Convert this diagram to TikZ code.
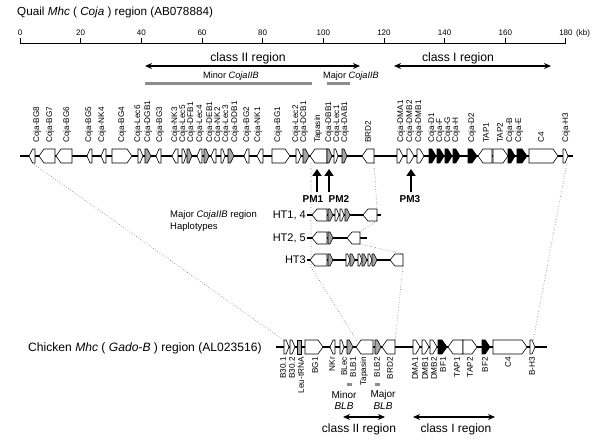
\documentclass[tikz,border=0pt]{standalone}
\usepackage{fontspec}
\setmainfont{Liberation Sans}
\usetikzlibrary{arrows.meta}
\tikzset{
 wgene/.style={draw=black, fill=white, line width=0.6pt},
 ggene/.style={draw=black, fill=black!35, line width=0.6pt},
 bgene/.style={draw=black, fill=black, line width=0.6pt},
 backbone/.style={line width=2pt},
 glabel/.style={rotate=90, anchor=west, font=\fontsize{8.2}{8}\selectfont, inner sep=0pt},
 clabel/.style={rotate=90, anchor=east, font=\fontsize{8.2}{8}\selectfont, inner sep=0pt},
 dotl/.style={black!55, dotted, line width=0.6pt},
 region/.style={line width=1.4pt, {Stealth[length=7pt,width=6pt]}-{Stealth[length=7pt,width=6pt]}},
 graybar/.style={line width=3pt, black!45},
 pmarrow/.style={line width=2.6pt, -{Triangle[length=7pt,width=9pt]}},
 txt/.style={inner sep=0pt, font=\fontsize{12.2}{13}\selectfont},
 small/.style={inner sep=0pt, font=\fontsize{8.5}{10}\selectfont},
}
\newcommand{\gR}[4]{\pgfmathsetmacro\gtl{min(5,0.6*(#2-#1))}\draw[#4] (#1,#3-\gh) -- ({#2-\gtl},#3-\gh) -- (#2,#3) -- ({#2-\gtl},#3+\gh) -- (#1,#3+\gh) -- cycle;}
\newcommand{\gL}[4]{\pgfmathsetmacro\gtl{min(5,0.6*(#2-#1))}\draw[#4] (#2,#3-\gh) -- ({#1+\gtl},#3-\gh) -- (#1,#3) -- ({#1+\gtl},#3+\gh) -- (#2,#3+\gh) -- cycle;}
\begin{document}
\begin{tikzpicture}[x=1pt,y=-1pt]
\useasboundingbox[fill=white] (0,0) rectangle (600,446);
% titles
\node[txt, anchor=west, font=\fontsize{11.7}{13}\selectfont] (qtitle) at (17,12) {Quail \textit{Mhc} ( \textit{Coja} ) region (AB078884)};
\node[txt, anchor=west, font=\fontsize{12.1}{13}\selectfont] (ctitle) at (28,348) {Chicken \textit{Mhc} ( \textit{Gado-B} ) region (AL023516)};
% scale
\draw[line width=1pt] (20,44) -- (566,44);
\foreach \k [count=\i] in {0,20,...,180} {
  \draw[line width=0.9pt] ({20+\k*3.033},44.5) -- ({20+\k*3.033},38);
  \node[small, font=\fontsize{8}{9}\selectfont] (tk\i) at ({20+\k*3.033},33) {\k};
}
\node[small, anchor=west, font=\fontsize{8}{9}\selectfont] (kb) at (576,33) {(kb)};
% regions top
\draw[region] (145,66) -- (360,66);
\node[txt] (c2top) at (248,58) {class II region};
\draw[region] (394,66) -- (551,66);
\node[txt] (c1top) at (458,58) {class I region};
\draw[graybar] (145,84) -- (312,84);
\draw[graybar] (327,84) -- (350,84);
\node[txt, font=\fontsize{9.2}{10}\selectfont] (minq) at (231,76) {Minor \textit{CojaIIB}};
\node[txt, font=\fontsize{9.2}{10}\selectfont] (majq) at (351,76) {Major \textit{CojaIIB}};
% dotted connectors
\coordinate (qBG8) at (32,163); \coordinate (cB30) at (285,341);
\coordinate (qTap) at (311,163); \coordinate (hTap) at (311,267); \coordinate (cTap) at (357,341);
\coordinate (qBRD) at (374,163); \coordinate (h1BRDt) at (377,209); \coordinate (h1BRDb) at (377,221);
\coordinate (h2BRDt) at (360,232); \coordinate (h2BRDb) at (360,244);
\coordinate (h3BRDt) at (403,254); \coordinate (h3BRDb) at (403,266); \coordinate (cBRD) at (395,341);
\coordinate (qH3) at (567,163); \coordinate (cH3) at (533,341);
\draw[dotl] (qBG8) -- (cB30);
\draw[dotl] (qTap) -- (hTap) -- (cTap);
\draw[dotl] (qBRD) -- (h1BRDt);
\draw[dotl] (h1BRDb) -- (h2BRDt);
\draw[dotl] (h2BRDb) -- (h3BRDt);
\draw[dotl] (h3BRDb) -- (cBRD);
\draw[dotl] (qH3) -- (cH3);
% quail track
\def\gh{7}
\draw[backbone] (20,156) -- (573,156);
\gL{29}{35}{156}{wgene} \gL{39}{55}{156}{wgene} \gL{56}{72}{156}{wgene}
\gL{87}{92}{156}{wgene} \gL{101}{106}{156}{wgene} \gR{112}{132}{156}{wgene}
\gR{138}{143}{156}{wgene} \gR{145}{151}{156}{ggene} \gL{156}{161}{156}{wgene}
\gL{172}{178}{156}{wgene} \gR{182}{186}{156}{wgene} \gR{187}{192}{156}{ggene}
\gL{197}{202}{156}{wgene} \gR{204}{209}{156}{ggene} \gL{211}{216}{156}{wgene}
\gR{221}{225}{156}{wgene} \gR{228}{234}{156}{ggene} \gL{244}{249}{156}{wgene}
\gL{257}{263}{156}{wgene} \gR{272}{290}{156}{wgene} \gR{296}{301}{156}{wgene}
\gR{303}{309}{156}{ggene} \gL{310}{327}{156}{wgene} \gR{327}{332}{156}{ggene}
\gR{334}{338}{156}{wgene} \gR{342}{347}{156}{ggene} \gL{362}{374}{156}{wgene}
\gR{397}{403}{156}{wgene} \gR{407}{414}{156}{wgene} \gR{417}{424}{156}{wgene}
\gR{429}{436}{156}{bgene} \gR{437}{444}{156}{bgene} \gR{445}{452}{156}{bgene}
\gR{453}{460}{156}{bgene} \gR{468}{477}{156}{bgene} \gL{478}{492}{156}{wgene}
\gR{493}{508}{156}{wgene} \gR{508}{515}{156}{bgene} \gR{517}{527}{156}{bgene}
\gR{529}{558}{156}{wgene} \gR{563}{568}{156}{wgene}
\foreach \x/\t [count=\i] in {37/Coja-BG8, 50/Coja-BG7, 67/Coja-BG6, 89/Coja-BG5, 102/Coja-NK4, 122/Coja-BG4, 138/Coja-Lec6, 148/Coja-DGB1, 160/Coja-BG3, 175/Coja-NK3, 183/Coja-Lec5, 191/Coja-DFB1, 200/Coja-Lec4, 210/Coja-DEB1, 218/Coja-NK2, 226/Coja-Lec3, 235/Coja-DDB1, 247/Coja-BG2, 258/Coja-NK1, 278/Coja-BG1, 296/Coja-Lec2, 304/Coja-DCB1, 318/Tapasin, 329/Coja-DBB1, 337/Coja-Lec1, 345/Coja-DAB1, 368/BRD2, 401/Coja-DMA1, 410/Coja-DMB2, 419/Coja-DMB1, 432/Coja-D1, 440/Coja-F, 448/Coja-G, 456/Coja-H, 472/Coja-D2, 486/TAP1, 500/TAP2, 510/Coja-B, 519/Coja-E, 541/C4, 566/Coja-H3}
  \node[glabel] (ql\i) at (\x,143) {\t};
% PM arrows
\draw[pmarrow] (317,192) -- (317,169);
\draw[pmarrow] (329,192) -- (329,169);
\draw[pmarrow] (411,192) -- (411,169);
\node[txt, font=\bfseries\fontsize{10}{11}\selectfont] (pm1) at (313,199) {PM1};
\node[txt, font=\bfseries\fontsize{10}{11}\selectfont] (pm2) at (339,199) {PM2};
\node[txt, font=\bfseries\fontsize{10}{11}\selectfont] (pm3) at (410,199) {PM3};
% haplotypes
\node[txt, anchor=west, align=left, font=\fontsize{9.5}{12}\selectfont] (hapt) at (170,221) {Major \textit{CojaIIB} region\\Haplotypes};
\def\gh{6}
\node[txt, anchor=east, font=\fontsize{11}{12}\selectfont] (ht1) at (306,215) {HT1, 4};
\draw[backbone] (307,215) -- (381,215);
\gL{312}{327}{215}{wgene} \gR{328}{333}{215}{ggene} \gR{335}{339}{215}{wgene}
\gR{340}{344}{215}{wgene} \gR{345}{350}{215}{ggene} \gL{363}{377}{215}{wgene}
\node[txt, anchor=east, font=\fontsize{11}{12}\selectfont] (ht2) at (306,238) {HT2, 5};
\draw[backbone] (307,238) -- (367,238);
\gL{312}{327}{238}{wgene} \gR{328}{333}{238}{ggene} \gL{347}{360}{238}{wgene}
\node[txt, anchor=east, font=\fontsize{11}{12}\selectfont] (ht3) at (306,260) {HT3};
\draw[backbone] (307,260) -- (392,260);
\gL{310}{327}{260}{wgene} \gR{328}{333}{260}{ggene} \gR{346}{350}{260}{wgene}
\gR{350}{355}{260}{ggene} \gR{358}{362}{260}{wgene} \gR{362}{367}{260}{ggene}
\gR{368}{372}{260}{wgene} \gR{372}{377}{260}{ggene} \gL{390}{403}{260}{wgene}
% chicken track
\def\gh{7}
\draw[backbone] (276,347) -- (547,347);
\gR{284}{289}{347}{wgene} \gR{290}{295}{347}{wgene}
\draw[ggene] (297.5,340) rectangle (301,354);
\gR{305}{323}{347}{wgene} \gL{330}{335}{347}{wgene} \gR{340}{344}{347}{wgene}
\gR{347}{353}{347}{ggene} \gL{356}{373}{347}{wgene} \gR{375}{381}{347}{ggene}
\gL{382}{395}{347}{wgene} \gR{413}{420}{347}{wgene} \gR{422}{429}{347}{wgene}
\gR{430}{437}{347}{wgene} \gR{438}{447}{347}{bgene} \gL{448}{463}{347}{wgene}
\gR{463}{477}{347}{wgene} \gR{482}{490}{347}{bgene} \gR{493}{527}{347}{wgene}
\gR{530}{535}{347}{wgene}
\foreach \x/\t [count=\i] in {283/B30.1, 292/B30.2, 301/Leu-tRNA, 315/BG1, 332/NKr, 344/BLec, 353/BLB1, 364/Tapasin, 377/BLB2, 390/BRD2, 415/DMA1, 425/DMB1, 434/DMB2, 443/BF1, 457/TAP1, 470/TAP2, 485/BF2, 508/C4, 532/B-H3}
  \node[clabel] (cl\i) at (\x,357) {\t};
% chicken bottom
\draw[graybar] (347,385) -- (352,385);
\draw[graybar] (375,385) -- (380,385);
\node[txt, font=\fontsize{10}{11}\selectfont] (minc) at (344,395) {Minor};
\node[txt, font=\itshape\fontsize{10}{11}\selectfont] (minb) at (344,406) {BLB};
\node[txt, font=\fontsize{10}{11}\selectfont] (majc) at (383,395) {Major};
\node[txt, font=\itshape\fontsize{10}{11}\selectfont] (majb) at (383,406) {BLB};
\draw[region] (343,417) -- (385,417);
\node[txt, font=\fontsize{12}{13}\selectfont] (c2bot) at (359,429) {class II region};
\draw[region] (413,417) -- (495,417);
\node[txt, font=\fontsize{12}{13}\selectfont] (c1bot) at (456,429) {class I region};
\end{tikzpicture}
\end{document}
